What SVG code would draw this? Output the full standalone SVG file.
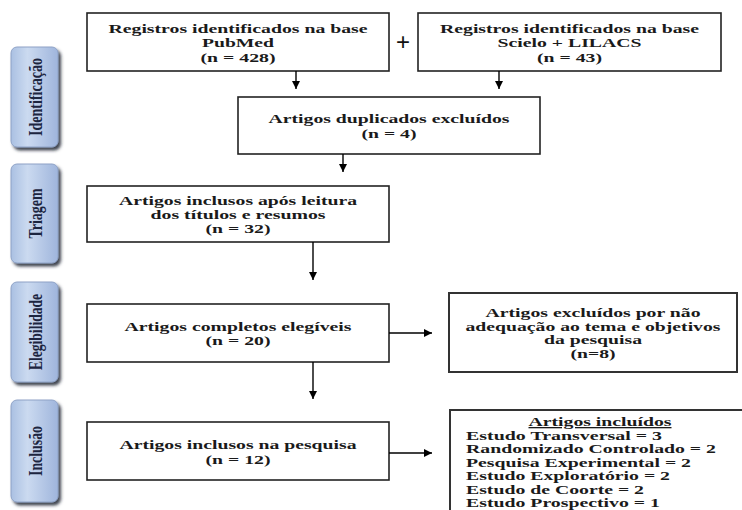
<svg xmlns="http://www.w3.org/2000/svg" width="742" height="510" viewBox="0 0 742 510">
  <defs>
    <linearGradient id="tabGrad" x1="0" y1="0" x2="1" y2="0">
      <stop offset="0" stop-color="#aac0e2"/>
      <stop offset="0.35" stop-color="#cbdaf0"/>
      <stop offset="1" stop-color="#9fb5dc"/>
    </linearGradient>
    <filter id="shadow" x="-30%" y="-10%" width="160%" height="130%">
      <feDropShadow dx="2.5" dy="3" stdDeviation="1.6" flood-color="#1e2533" flood-opacity="0.85"/>
    </filter>
    <marker id="arrow" viewBox="0 0 10 10" refX="10" refY="5" markerWidth="8" markerHeight="8" markerUnits="userSpaceOnUse" orient="auto">
      <path d="M0,0 L10,5 L0,10 Z" fill="#000"/>
    </marker>
    <style>
      .box { fill: #fff; stroke: #222; stroke-width: 1.6; }
      .box2 { fill: #fff; stroke: #333; stroke-width: 2; }
      .t { font-family: 'Liberation Serif', 'Times New Roman', Times, serif; font-weight: bold; font-size: 13px; fill: #1a1a1a; text-anchor: middle; }
      .tl { font-family: 'Liberation Serif', 'Times New Roman', Times, serif; font-weight: bold; font-size: 13px; fill: #1a1a1a; text-anchor: start; }
      .tab { fill: url(#tabGrad); stroke: #8ea2c6; stroke-width: 1; filter: url(#shadow); }
      .tabt { font-family: 'Liberation Serif', 'Times New Roman', Times, serif; font-weight: bold; font-size: 14.5px; fill: #1c2540; text-anchor: middle; }
      .conn { stroke: #000; stroke-width: 1.4; fill: none; marker-end: url(#arrow); }
      .plus { font-family: 'Liberation Sans', Arial, sans-serif; font-size: 24px; fill: #111; text-anchor: middle; }
    </style>
  </defs>

  <rect width="742" height="510" fill="#fff"/>

  <!-- Side tabs -->
  <g id="tab-identificacao">
    <rect class="tab" x="11" y="47" width="47" height="100" rx="6"/>
    <text class="tabt" transform="translate(35,97) scale(1.3 1) rotate(-90)" x="0" y="5" textLength="78" lengthAdjust="spacingAndGlyphs">Identificação</text>
  </g>
  <g id="tab-triagem">
    <rect class="tab" x="11" y="164" width="47" height="99" rx="6"/>
    <text class="tabt" transform="translate(35,213.5) scale(1.3 1) rotate(-90)" x="0" y="5" textLength="50" lengthAdjust="spacingAndGlyphs">Triagem</text>
  </g>
  <g id="tab-elegibilidade">
    <rect class="tab" x="11" y="282" width="47" height="100" rx="6"/>
    <text class="tabt" transform="translate(35,332) scale(1.3 1) rotate(-90)" x="0" y="5" textLength="76" lengthAdjust="spacingAndGlyphs">Elegibilidade</text>
  </g>
  <g id="tab-inclusao">
    <rect class="tab" x="11" y="400" width="47" height="102" rx="6"/>
    <text class="tabt" transform="translate(35,451) scale(1.3 1) rotate(-90)" x="0" y="5" textLength="50" lengthAdjust="spacingAndGlyphs">Inclusão</text>
  </g>

  <!-- Nodes -->
  <g id="pubmed">
    <rect class="box" x="87" y="13" width="302" height="58"/>
    <text class="t" x="238" y="32.5" textLength="259" lengthAdjust="spacingAndGlyphs">Registros identificados na base</text>
    <text class="t" x="238" y="47" textLength="72" lengthAdjust="spacingAndGlyphs">PubMed</text>
    <text class="t" x="238" y="61.5" textLength="75" lengthAdjust="spacingAndGlyphs">(n = 428)</text>
  </g>

  <text class="plus" x="403" y="50">+</text>

  <g id="scielo">
    <rect class="box" x="418" y="13" width="303" height="58"/>
    <text class="t" x="569.5" y="32.5" textLength="259" lengthAdjust="spacingAndGlyphs">Registros identificados na base</text>
    <text class="t" x="569.5" y="47" textLength="144" lengthAdjust="spacingAndGlyphs">Scielo + LILACS</text>
    <text class="t" x="569.5" y="61.5" textLength="65" lengthAdjust="spacingAndGlyphs">(n = 43)</text>
  </g>

  <g id="duplicados">
    <rect class="box" x="238" y="97" width="302" height="57"/>
    <text class="t" x="389" y="122.5" textLength="241" lengthAdjust="spacingAndGlyphs">Artigos duplicados excluídos</text>
    <text class="t" x="389" y="137.5" textLength="55" lengthAdjust="spacingAndGlyphs">(n = 4)</text>
  </g>

  <g id="triagem">
    <rect class="box" x="87" y="186" width="302" height="56"/>
    <text class="t" x="238" y="204.5" textLength="238" lengthAdjust="spacingAndGlyphs">Artigos inclusos após leitura</text>
    <text class="t" x="238" y="218.5" textLength="175" lengthAdjust="spacingAndGlyphs">dos títulos e resumos</text>
    <text class="t" x="238" y="232.5" textLength="65" lengthAdjust="spacingAndGlyphs">(n = 32)</text>
  </g>

  <g id="elegiveis">
    <rect class="box" x="87" y="304" width="302" height="58"/>
    <text class="t" x="238" y="330.5" textLength="227" lengthAdjust="spacingAndGlyphs">Artigos completos elegíveis</text>
    <text class="t" x="238" y="345" textLength="65" lengthAdjust="spacingAndGlyphs">(n = 20)</text>
  </g>

  <g id="excluidos">
    <rect class="box2" x="449" y="293" width="288" height="79"/>
    <text class="t" x="593" y="316.5" textLength="215" lengthAdjust="spacingAndGlyphs">Artigos excluídos por não</text>
    <text class="t" x="593" y="330.5" textLength="255" lengthAdjust="spacingAndGlyphs">adequação ao tema e objetivos</text>
    <text class="t" x="593" y="344" textLength="98" lengthAdjust="spacingAndGlyphs">da pesquisa</text>
    <text class="t" x="593" y="358" textLength="45" lengthAdjust="spacingAndGlyphs">(n=8)</text>
  </g>

  <g id="inclusos">
    <rect class="box" x="87" y="422" width="302" height="58"/>
    <text class="t" x="238" y="449" textLength="237" lengthAdjust="spacingAndGlyphs">Artigos inclusos na pesquisa</text>
    <text class="t" x="238" y="463.5" textLength="65" lengthAdjust="spacingAndGlyphs">(n = 12)</text>
  </g>

  <g id="incluidos">
    <rect class="box2" x="450" y="410" width="300" height="110"/>
    <text class="t" x="600" y="426" textLength="143" lengthAdjust="spacingAndGlyphs" text-decoration="underline">Artigos incluídos</text>
    <text class="tl" x="466" y="439.5" textLength="196" lengthAdjust="spacingAndGlyphs">Estudo Transversal = 3</text>
    <text class="tl" x="466" y="453" textLength="250" lengthAdjust="spacingAndGlyphs">Randomizado Controlado = 2</text>
    <text class="tl" x="466" y="466.5" textLength="225" lengthAdjust="spacingAndGlyphs">Pesquisa Experimental = 2</text>
    <text class="tl" x="466" y="480" textLength="204" lengthAdjust="spacingAndGlyphs">Estudo Exploratório = 2</text>
    <text class="tl" x="466" y="493.5" textLength="178" lengthAdjust="spacingAndGlyphs">Estudo de Coorte = 2</text>
    <text class="tl" x="466" y="507" textLength="194" lengthAdjust="spacingAndGlyphs">Estudo Prospectivo = 1</text>
  </g>

  <!-- Connectors -->
  <g id="connectors">
    <line class="conn" x1="296" y1="71" x2="296" y2="89"/>
    <line class="conn" x1="499" y1="71" x2="499" y2="89"/>
    <line class="conn" x1="343" y1="154" x2="343" y2="172"/>
    <line class="conn" x1="313" y1="242" x2="313" y2="280"/>
    <line class="conn" x1="313" y1="362" x2="313" y2="399"/>
    <line class="conn" x1="389" y1="333" x2="432" y2="333"/>
    <line class="conn" x1="389" y1="453" x2="432" y2="453"/>
  </g>
</svg>
